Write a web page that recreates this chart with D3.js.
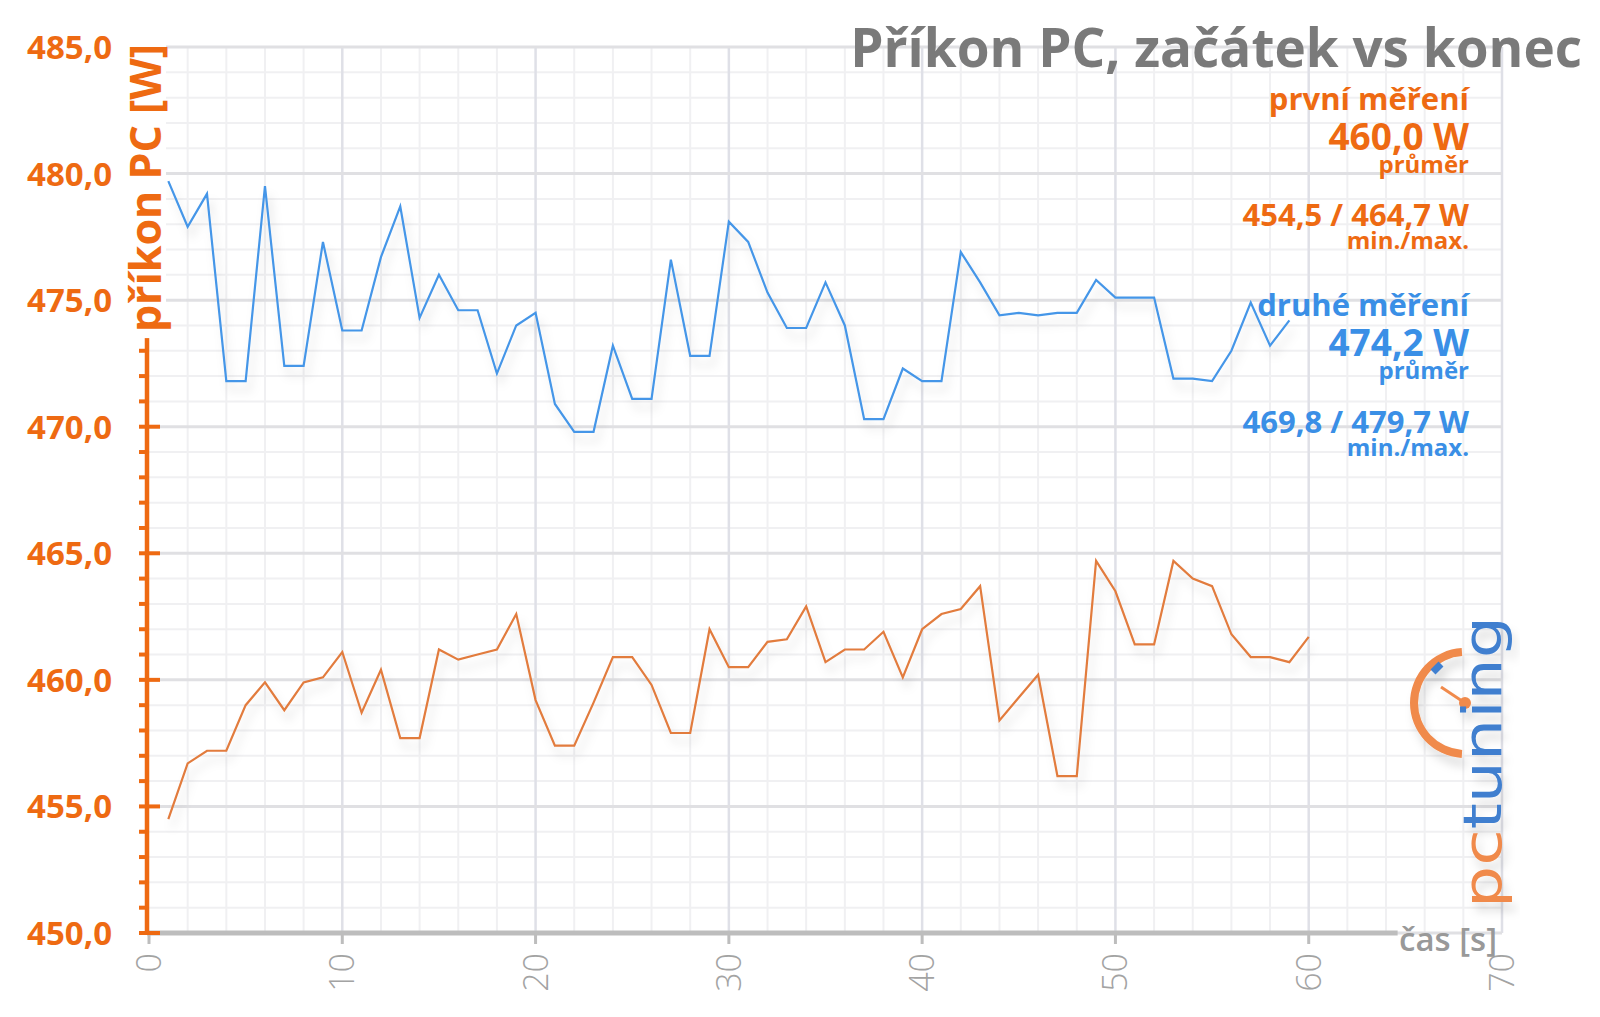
<!DOCTYPE html>
<html lang="cs">
<head>
<meta charset="UTF-8">
<script src="https://cdnjs.cloudflare.com/ajax/libs/d3/7.8.5/d3.min.js"></script>
<title>Příkon PC, začátek vs konec</title>
<style>
  body { margin: 0; background: #fff; }
  text { font-family: "Open Sans", "DejaVu Sans", sans-serif; }
</style>
</head>
<body>
<script>
// čas [s]
const secondsFirst = [1,2,3,4,5,6,7,8,9,10,11,12,13,14,15,16,17,18,19,20,
  21,22,23,24,25,26,27,28,29,30,31,32,33,34,35,36,37,38,39,40,
  41,42,43,44,45,46,47,48,49,50,51,52,53,54,55,56,57,58,59,60];
const secondsSecond = secondsFirst.slice(0, 59);

// první měření [W]
const firstRun = [454.5,456.7,457.2,457.2,459.0,459.9,458.8,459.9,460.1,461.1,
  458.7,460.4,457.7,457.7,461.2,460.8,461.0,461.2,462.6,459.2,
  457.4,457.4,459.1,460.9,460.9,459.8,457.9,457.9,462.0,460.5,
  460.5,461.5,461.6,462.9,460.7,461.2,461.2,461.9,460.1,462.0,
  462.6,462.8,463.7,458.4,459.3,460.2,456.2,456.2,464.7,463.5,
  461.4,461.4,464.7,464.0,463.7,461.8,460.9,460.9,460.7,461.7];

// druhé měření [W]
const secondRun = [479.7,477.9,479.2,471.8,471.8,479.5,472.4,472.4,477.3,473.8,
  473.8,476.7,478.7,474.3,476.0,474.6,474.6,472.1,474.0,474.5,
  470.9,469.8,469.8,473.2,471.1,471.1,476.6,472.8,472.8,478.1,
  477.3,475.3,473.9,473.9,475.7,474.0,470.3,470.3,472.3,471.8,
  471.8,476.9,475.7,474.4,474.5,474.4,474.5,474.5,475.8,475.1,
  475.1,475.1,471.9,471.9,471.8,473.0,474.9,473.2,474.2];

const xTickValues = [0,10,20,30,40,50,60,70];
const yTickValues = [450,455,460,465,470,475,480,485];

const legendFirst = ["první měření", "460,0 W", "průměr", "454,5 / 464,7 W", "min./max."];
const legendSecond = ["druhé měření", "474,2 W", "průměr", "469,8 / 479,7 W", "min./max."];

const orange = "#ee6a12";
const orangeLine = "#e27b3e";
const blue = "#3a8fe6";
const blueLine = "#4596e8";

const W = 1600, H = 1017;

let x = d3.scaleLinear().domain([0, 70]).range([149, 1502]);
let y = d3.scaleLinear().domain([450, 485]).range([933, 47]);

let svg = d3.select("body").append("svg")
    .attr("width", W)
    .attr("height", H);

// soft shadow under the lines
let defs = svg.append("defs");
let f = defs.append("filter").attr("id", "shadow")
    .attr("x", "-5%").attr("y", "-20%").attr("width", "110%").attr("height", "140%");
f.append("feDropShadow")
    .attr("dx", 4).attr("dy", 9).attr("stdDeviation", 5)
    .attr("flood-color", "#000").attr("flood-opacity", 0.13);

// grid
let grid = svg.append("g");
grid.selectAll(".vminor").data(x.ticks(35).filter(d => d % 10 !== 0))
  .enter().append("line")
    .attr("x1", d => x(d)).attr("x2", d => x(d))
    .attr("y1", y(485)).attr("y2", y(450))
    .attr("stroke", "#f0f0f2").attr("stroke-width", 2);
grid.selectAll(".hminor").data(y.ticks(35).filter(d => d % 5 !== 0))
  .enter().append("line")
    .attr("x1", x(0)).attr("x2", x(70))
    .attr("y1", d => y(d)).attr("y2", d => y(d))
    .attr("stroke", "#f0f0f2").attr("stroke-width", 2);
grid.selectAll(".vmajor").data(xTickValues.filter(d => d > 0))
  .enter().append("line")
    .attr("x1", d => x(d)).attr("x2", d => x(d))
    .attr("y1", y(485)).attr("y2", y(450))
    .attr("stroke", "#dfe0e7").attr("stroke-width", 2.5);
grid.selectAll(".hmajor").data(yTickValues)
  .enter().append("line")
    .attr("x1", x(0)).attr("x2", x(70))
    .attr("y1", d => y(d)).attr("y2", d => y(d))
    .attr("stroke", "#e0e0e3").attr("stroke-width", 3);

// logo pctuning
let logo = svg.append("g").attr("filter", "url(#shadow)");
let arc = d3.arc().innerRadius(47).outerRadius(55)
    .startAngle(Math.PI + 0.06).endAngle(2 * Math.PI - 0.06);
logo.append("path").attr("d", arc()).attr("transform", "translate(1465,703)").attr("fill", "#f08a4c");
logo.append("line").attr("x1", 1441).attr("y1", 687).attr("x2", 1465).attr("y2", 703)
    .attr("stroke", "#f08a4c").attr("stroke-width", 3);
logo.append("circle").attr("cx", 1465).attr("cy", 703).attr("r", 6).attr("fill", "#f08a4c");
logo.append("line").attr("x1", 1433).attr("y1", 672).attr("x2", 1441).attr("y2", 664)
    .attr("stroke", "#3f7fcf").attr("stroke-width", 7);
let lt = logo.append("text")
    .attr("transform", "translate(1501,908) rotate(-90)")
    .attr("textLength", 292).attr("lengthAdjust", "spacingAndGlyphs")
    .style("font-family", "'DejaVu Sans', sans-serif")
    .style("font-size", "54px").style("font-weight", "normal");
lt.append("tspan").attr("fill", "#f08a4c").text("pc");
lt.append("tspan").attr("fill", "#3f7fcf").text("tuning");

// lines
let line = d3.line().x(d => x(d[0])).y(d => y(d[1]));
svg.append("path")
    .datum(secondsFirst.map((s, i) => [s, firstRun[i]]))
    .attr("d", line).attr("fill", "none")
    .attr("stroke", orangeLine).attr("stroke-width", 2.2)
    .attr("filter", "url(#shadow)");
svg.append("path")
    .datum(secondsSecond.map((s, i) => [s, secondRun[i]]))
    .attr("d", line).attr("fill", "none")
    .attr("stroke", blueLine).attr("stroke-width", 2.2)
    .attr("filter", "url(#shadow)");

// x axis
svg.append("line")
    .attr("x1", x(0) - 2).attr("x2", x(64.6))
    .attr("y1", y(450)).attr("y2", y(450))
    .attr("stroke", "#bdbdbd").attr("stroke-width", 5);
svg.selectAll(".xtick").data(xTickValues.filter(d => d < 70))
  .enter().append("line")
    .attr("x1", d => x(d)).attr("x2", d => x(d))
    .attr("y1", y(450)).attr("y2", y(450) + 11)
    .attr("stroke", "#bdbdbd").attr("stroke-width", 3);
svg.selectAll(".xlabel").data(xTickValues)
  .enter().append("text")
    .attr("transform", d => "translate(" + (x(d) + 12) + "," + (y(450) + 20) + ") rotate(-90)")
    .attr("text-anchor", "end")
    .attr("fill", "#a3a3a3")
    .style("font-size", "34px").style("font-weight", 300)
    .text(d => d);
svg.append("text")
    .attr("x", 1497).attr("y", 951)
    .attr("text-anchor", "end")
    .attr("fill", "#999")
    .style("font-size", "33px").style("font-weight", 600)
    .text("čas [s]");

// y axis
svg.append("line")
    .attr("x1", 147).attr("x2", 147)
    .attr("y1", y(485) - 2).attr("y2", y(450) + 2)
    .attr("stroke", orange).attr("stroke-width", 4.5);
svg.selectAll(".yminor").data(y.ticks(35))
  .enter().append("line")
    .attr("x1", 139).attr("x2", d => d % 5 === 0 ? 160 : 147)
    .attr("y1", d => y(d)).attr("y2", d => y(d))
    .attr("stroke", orange).attr("stroke-width", 4);

let comma = d3.formatLocale({decimal: ",", thousands: " ", grouping: [3], currency: ["", ""]}).format(".1f");
svg.selectAll(".ylabel").data(yTickValues)
  .enter().append("text")
    .attr("x", 112).attr("y", d => y(d) + 12)
    .attr("text-anchor", "end")
    .attr("fill", orange)
    .style("font-size", "33px").style("font-weight", "bold")
    .text(d => comma(d));

// y axis title sits on the axis line, white gap behind it
let yTitleMid = 188;
let gap = svg.append("rect").attr("fill", "#fff");
let yt = svg.append("text")
    .attr("transform", "translate(161," + yTitleMid + ") rotate(-90)")
    .attr("text-anchor", "middle")
    .attr("fill", orange)
    .style("font-size", "43px").style("font-weight", "bold")
    .text("příkon PC [W]");
let len = yt.node().getComputedTextLength();
gap.attr("x", 136).attr("y", yTitleMid - len / 2 - 6)
    .attr("width", 30).attr("height", len + 12);

// title
let title = svg.append("text")
    .attr("x", 1582).attr("y", 67)
    .attr("text-anchor", "end")
    .attr("fill", "#7a7a7a")
    .style("font-size", "54px").style("font-weight", "bold")
    .text("Příkon PC, začátek vs konec");
let tl = title.node().getComputedTextLength();
title.style("font-size", (54 * 732 / tl) + "px");

// legend
const legendSizes = [31, 37, 24, 31, 24];
const firstY = [110, 150, 173, 226, 249];
const secondY = [316, 356, 379, 433, 456];
function legend(texts, ys, color) {
  svg.append("g").selectAll("text").data(texts)
    .enter().append("text")
      .attr("x", 1469).attr("y", (d, i) => ys[i])
      .attr("text-anchor", "end")
      .attr("fill", color)
      .style("font-size", (d, i) => legendSizes[i] + "px")
      .style("font-weight", "bold")
      .text(d => d);
}
legend(legendFirst, firstY, orange);
legend(legendSecond, secondY, blue);
</script>
</body>
</html>
